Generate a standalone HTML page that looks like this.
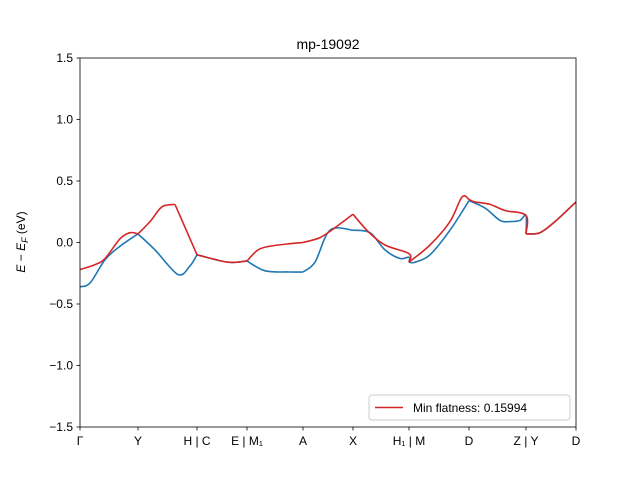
<!DOCTYPE html>
<html><head><meta charset="utf-8"><style>body{margin:0;background:#fff}svg text{font-family:"Liberation Sans","DejaVu Sans",sans-serif}</style></head>
<body>
<svg id="chart" width="640" height="480" xmlns="http://www.w3.org/2000/svg">
<rect width="640" height="480" fill="#fff"/>
<text x="328" y="49" font-size="14" text-anchor="middle">mp-19092</text>
<g id="plot"></g>
<text transform="translate(25,242) rotate(-90)" font-size="12" text-anchor="middle"><tspan font-style="italic">E</tspan> − <tspan font-style="italic">E</tspan><tspan font-size="9" dy="3" font-style="italic">F</tspan><tspan dy="-3"> (eV)</tspan></text>
</svg>
<script>
const yTicks=[-1.5,-1.0,-0.5,0.0,0.5,1.0,1.5];
const yTickLabels=["−1.5","−1.0","−0.5","0.0","0.5","1.0","1.5"];
const kTicks=[0,0.58,1.17,1.67,2.23,2.73,3.29,3.89,4.46,4.96];
const kTickLabels=["Γ","Y","H | C","E | M₁","A","X","H₁ | M","D","Z | Y","D"];
const kinkK=[0.95];
const blueK=[0,0.1,0.25,0.4,0.58,0.75,0.98,1.1,1.17,1.48,1.67,1.85,2.1,2.23,2.35,2.5,2.73,2.9,3.05,3.2,3.29,3.29,3.35,3.5,3.7,3.89,4.05,4.2,4.3,4.4,4.46,4.46,4.6,4.75,4.96];
const blueE=[-0.36,-0.33,-0.14,-0.03,0.07,-0.06,-0.26,-0.19,-0.10,-0.16,-0.15,-0.23,-0.24,-0.24,-0.16,0.10,0.10,0.08,-0.06,-0.13,-0.12,-0.16,-0.16,-0.10,0.10,0.34,0.28,0.18,0.17,0.18,0.22,0.07,0.08,0.17,0.33];
const redK=[0,0.15,0.25,0.4,0.5,0.58,0.7,0.82,0.95,1.17,1.48,1.67,1.78,1.9,2.1,2.23,2.4,2.55,2.73,2.88,3.05,3.29,3.29,3.5,3.7,3.82,3.89,3.95,4.1,4.25,4.46,4.46,4.6,4.75,4.96];
const redE=[-0.22,-0.18,-0.13,0.03,0.08,0.07,0.17,0.29,0.31,-0.10,-0.16,-0.15,-0.06,-0.03,-0.01,0.00,0.04,0.12,0.23,0.09,-0.02,-0.09,-0.16,-0.02,0.17,0.37,0.35,0.33,0.31,0.26,0.22,0.07,0.08,0.17,0.33];
const L=80,R=576,T=58,B=427,kMax=4.96;
const xs=k=>L+k/kMax*(R-L);
const ys=e=>T+(1.5-e)/3*(B-T);
const NS="http://www.w3.org/2000/svg";
const g=document.getElementById('plot');
function mk(t,a){const e=document.createElementNS(NS,t);for(const k in a)e.setAttribute(k,a[k]);g.appendChild(e);return e;}
function smooth(P){let d='M'+P[0][0].toFixed(1)+','+P[0][1].toFixed(1);
for(let i=0;i<P.length-1;i++){const p0=P[Math.max(0,i-1)],p1=P[i],p2=P[i+1],p3=P[Math.min(P.length-1,i+2)];
const c1=[p1[0]+(p2[0]-p0[0])/6,p1[1]+(p2[1]-p0[1])/6],c2=[p2[0]-(p3[0]-p1[0])/6,p2[1]-(p3[1]-p1[1])/6];
d+='C'+c1.map(v=>v.toFixed(1)).join(',')+' '+c2.map(v=>v.toFixed(1)).join(',')+' '+p2[0].toFixed(1)+','+p2[1].toFixed(1);}
return d;}
function line(K,E,c,name){let segs=[[]];
K.forEach((k,i)=>{const pt=[xs(k),ys(E[i])];
if(i>0&&k===K[i-1]){segs[segs.length-1].push(pt);segs.push([pt]);return;}
segs[segs.length-1].push(pt);
const isKink=(kTicks.includes(k)||kinkK.includes(k))&&i>0&&i<K.length-1&&K[i+1]!==k;
if(isKink)segs.push([pt]);});
let d='';segs.forEach(s=>{if(s.length>1&&!(s.length===2&&s[0][0]===s[1][0]))d+=smooth(s);else if(s.length===2)d+='M'+s[0].join(',')+'L'+s[1].join(',');});
const p=mk('path',{d:d,fill:'none',stroke:c,'stroke-width':1.6,'stroke-linejoin':'round'});

}
line(blueK,blueE,'#1f77b4','band-blue');
line(redK,redE,'#d62728','band-red');
const fr=mk('rect',{x:L,y:T,width:R-L,height:B-T,fill:'none',stroke:'#000','stroke-width':0.8});


yTicks.forEach((v,i)=>{const y=ys(v);mk('line',{x1:L-3.5,x2:L,y1:y,y2:y,stroke:'#000','stroke-width':0.8});
const t=mk('text',{x:L-7,y:y+4,'font-size':12,'text-anchor':'end'});t.textContent=yTickLabels[i];

});
kTicks.forEach((v,i)=>{const x=xs(v);mk('line',{x1:x,x2:x,y1:B,y2:B+3.5,stroke:'#000','stroke-width':0.8});
const t=mk('text',{x:x,y:B+18,'font-size':12,'text-anchor':'middle'});t.textContent=kTickLabels[i];

});
const lg=mk('rect',{x:369,y:395,width:201,height:25,rx:3,fill:'#fff','fill-opacity':0.8,stroke:'#ccc'});


mk('line',{x1:375,x2:403,y1:407.5,y2:407.5,stroke:'#d62728','stroke-width':1.6});
const lt=mk('text',{x:413,y:412,'font-size':12});lt.textContent='Min flatness: 0.15994';


</script>
</body></html>
